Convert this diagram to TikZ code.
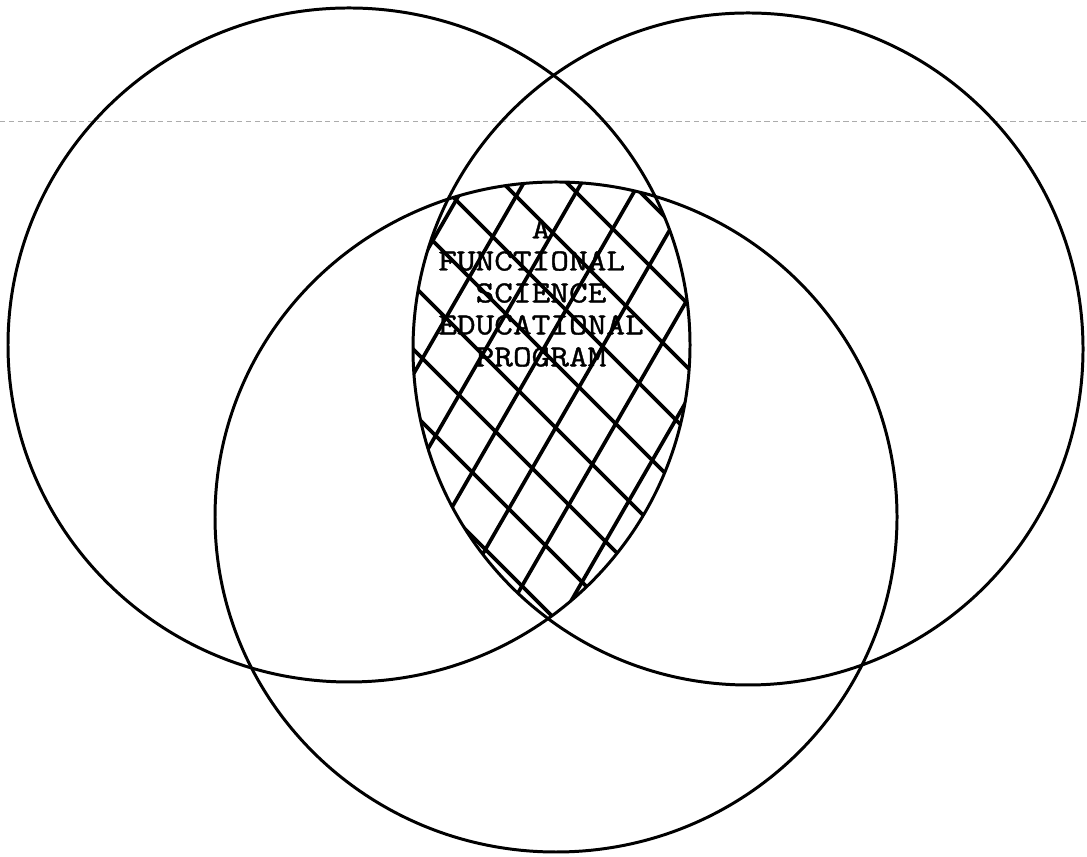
\documentclass[tikz,border=0pt]{standalone}
\usepackage{fontspec}
\setmonofont[FakeStretch=1.18, FakeBold=1.2]{Latin Modern Mono}
\usepackage{tikz}

\begin{document}
\begin{tikzpicture}[
    x=0.02cm, y=0.02cm,
    ring/.style={draw=black, line width=1.7pt},
    hatch/.style={draw=black, line width=2.1pt},
    tagtext/.style={font=\ttfamily\fontsize{17.5}{18.2}\selectfont,
                    align=left, inner sep=0pt},
    scanline/.style={draw=gray!65, dash pattern=on 3pt off 2pt, line width=0.5pt},
]
\useasboundingbox (0,0) rectangle (1087,857);

% faint rule across the top
\draw[scanline] (0,736) -- (1087,736);

% cross-hatch where all three circles meet
\begin{scope}
  \clip (349,512) ellipse [x radius=341, y radius=337];
  \clip (748,508) ellipse [x radius=335, y radius=336];
  \clip (556,340) ellipse [x radius=341, y radius=335];
  \foreach \k in {-4,...,8}
    \draw[hatch] (380,{477+64*\k}) -- (720,{137+64*\k});
  \foreach \k in {-4,...,6}
    \draw[hatch] (380,{25+100*\k}) -- (720,{614+100*\k});
\end{scope}

% the three circles
\draw[ring] (349,512) ellipse [x radius=341, y radius=337];
\draw[ring] (748,508) ellipse [x radius=335, y radius=336];
\draw[ring] (556,340) ellipse [x radius=341, y radius=335];

\node[tagtext] (program) at (541,564)
  {\hphantom{FUNCT}A\\FUNCTIONAL\\\hphantom{FU}SCIENCE\\EDUCATIONAL\\\hphantom{FU}PROGRAM};

\end{tikzpicture}
\end{document}
